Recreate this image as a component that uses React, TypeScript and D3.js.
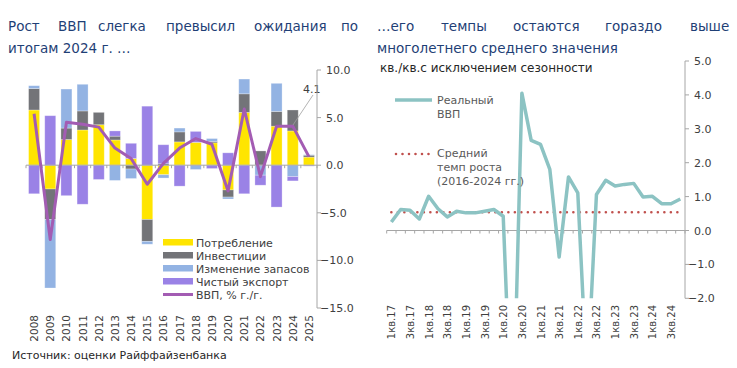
import React from 'react';
import * as d3 from 'd3';

// left chart: contributions to GDP growth, p.p.
const years = ['2008', '2009', '2010', '2011', '2012', '2013', '2014', '2015', '2016', '2017', '2018', '2019', '2020', '2021', '2022', '2023', '2024', '2025'];
const consumption = [5.8, -2.5, 2.7, 3.7, 4.25, 2.65, 0.7, -5.7, -1.0, 2.45, 2.4, 2.35, -2.6, 5.55, 0.0, 4.1, 3.6, 0.85];
const investment = [2.25, -3.2, 1.2, 2.0, 1.3, 0.4, -0.4, -2.3, 0.15, 1.05, 0.0, 0.15, -0.75, 1.95, 1.5, 1.55, 2.2, 0.2];
const stocks = [0.3, -7.2, 4.1, 2.8, 0.0, -1.6, -1.0, -0.3, -0.35, 0.4, -0.45, 0.3, -0.2, 1.55, -1.05, 2.95, -1.2, 0.05];
const netExports = [-3.0, 5.2, -3.2, -4.1, -1.5, 0.55, 1.6, 6.2, 2.0, -2.2, 1.15, -0.35, 1.3, -3.0, -1.05, -4.4, -0.45, -0.1];
const gdp = [5.4, -7.8, 4.5, 4.3, 4.0, 1.8, 0.7, -2.0, 0.2, 1.8, 2.8, 2.2, -2.7, 5.9, -1.2, 4.1, 4.1, 0.9];
const leftTicks = [10, 5, 0, -5, -10, -15];

// right chart: q/q SA growth, %
const quarters = [
  '1кв.17', '2кв.17', '3кв.17', '4кв.17', '1кв.18', '2кв.18', '3кв.18', '4кв.18',
  '1кв.19', '2кв.19', '3кв.19', '4кв.19', '1кв.20', '2кв.20', '3кв.20', '4кв.20',
  '1кв.21', '2кв.21', '3кв.21', '4кв.21', '1кв.22', '2кв.22', '3кв.22', '4кв.22',
  '1кв.23', '2кв.23', '3кв.23', '4кв.23', '1кв.24', '2кв.24', '3кв.24', '4кв.24',
];
const realGdp = [
  0.25, 0.62, 0.6, 0.34, 1.01, 0.64, 0.4, 0.57,
  0.52, 0.52, 0.57, 0.62, 0.42, -6.5, 4.05, 2.66,
  2.54, 1.8, -0.78, 1.58, 1.11, -4.5, 1.06, 1.48,
  1.31, 1.36, 1.39, 0.99, 1.01, 0.79, 0.79, 0.93,
];
const avgGrowth = 0.54;
const rightTicks = [5, 4, 3, 2, 1, 0, -1, -2];

const keys = ['cons', 'inv', 'stocks', 'nx'];
const colors = { cons: '#FFE500', inv: '#737478', stocks: '#93B3E3', nx: '#9A82E6' };
const legendNames = ['Потребление', 'Инвестиции', 'Изменение запасов', 'Чистый экспорт'];

const FONT = 'DejaVu Sans';
const axisColor = '#A6A6A6';
const labelColor = '#404040';
const titleColor = '#1F3F76';

export default function App() {
  // ---- left
  const xL = d3.scaleBand().domain(years).range([26, 317]).paddingInner(0.32).paddingOuter(0.16);
  const yL = d3.scaleLinear().domain([-15, 10]).range([308, 70]);
  const bw = xL.bandwidth();
  const rows = years.map((y, i) => ({
    year: y, cons: consumption[i], inv: investment[i], stocks: stocks[i], nx: netExports[i],
  }));
  const series = d3.stack().keys(keys).offset(d3.stackOffsetDiverging)(rows as any);
  const gdpLine = d3.line<number>()
    .x((_, i) => xL(years[i])! + bw / 2)
    .y((d) => yL(d))(gdp);
  const stepL = xL.step();

  // ---- right
  const xR = d3.scaleBand().domain(quarters).range([386.7, 685]);
  const yR = d3.scaleLinear().domain([-2, 5]).range([298.3, 61]);
  const bwR = xR.bandwidth();
  const cx = (q) => xR(q)! + bwR / 2;
  const realLine = d3.line<number>()
    .x((_, i) => cx(quarters[i]))
    .y((d) => yR(d))(realGdp);
  const avgLine = d3.line<string>()
    .x((q) => cx(q))
    .y(() => yR(avgGrowth))([quarters[0], quarters[quarters.length - 1]]);

  const titleL1 = [['Рост', 8], ['ВВП', 58], ['слегка', 98], ['превысил', 166], ['ожидания', 254], ['по', 341]];
  const titleR1 = [['…его', 377], ['темпы', 441], ['остаются', 513], ['гораздо', 605], ['выше', 690]];

  return (
    <svg width={737} height={368} style={{ position: 'absolute', left: 0, top: 0, background: '#fff' }} fontFamily={FONT}>
      <defs>
        <clipPath id="rclip">
          <rect x={380} y={61} width={310} height={237.3} />
        </clipPath>
      </defs>

      {/* titles */}
      {titleL1.map(([w, x]) => (
        <text key={w as string} x={x as number} y={31} fontSize={13.5} fill={titleColor}>{w}</text>
      ))}
      <text x={8} y={53} fontSize={13.5} fill={titleColor}>итогам 2024 г. …</text>
      {titleR1.map(([w, x]) => (
        <text key={w as string} x={x as number} y={31} fontSize={13.5} fill={titleColor}>{w}</text>
      ))}
      <text x={377} y={53} fontSize={13.5} fill={titleColor}>многолетнего среднего значения</text>

      {/* left bars */}
      {series.map((s) => (
        <g key={s.key} fill={colors[s.key]}>
          {s.map((d, i) => {
            const h = Math.abs(yL(d[0]) - yL(d[1]));
            if (h < 0.01) return null;
            return (
              <rect key={i} x={xL(years[i])} y={yL(Math.max(d[0], d[1]))} width={bw} height={h}
                stroke="#fff" strokeOpacity={0.35} strokeWidth={0.8} />
            );
          })}
        </g>
      ))}
      {/* zero line + ticks */}
      <line x1={xL.range()[0]} x2={317} y1={yL(0)} y2={yL(0)} stroke={axisColor} strokeWidth={1} />
      {d3.range(years.length + 1).map((i) => (
        <line key={i} x1={26 + i * stepL} x2={26 + i * stepL} y1={yL(0)} y2={yL(0) + 3} stroke={axisColor} />
      ))}
      <path d={gdpLine!} fill="none" stroke="#A35CB3" strokeWidth={3} strokeLinejoin="round" />
      {/* 4.1 label */}
      <line x1={313} y1={95} x2={293} y2={125} stroke="#A0A0A0" strokeWidth={0.8} />
      <text x={303} y={93} fontSize={11} fill={labelColor}>{d3.format('.1f')(gdp[gdp.length - 2])}</text>

      {/* left y axis */}
      <line x1={317} x2={317} y1={yL(10)} y2={yL(-15)} stroke={axisColor} />
      {leftTicks.map((t) => (
        <g key={t}>
          <line x1={317} x2={321} y1={yL(t)} y2={yL(t)} stroke={axisColor} />
          <text x={t < 0 ? 320 : 326} y={yL(t) + 4} fontSize={11} fill={labelColor}>{d3.format('.1f')(t)}</text>
        </g>
      ))}
      {/* left x labels */}
      {years.map((y) => (
        <text key={y} transform={`translate(${xL(y)! + bw / 2 + 4},315) rotate(-90)`} textAnchor="end"
          fontSize={10.5} fill={labelColor}>{y}</text>
      ))}

      {/* left legend */}
      {keys.map((k, i) => (
        <g key={k}>
          <rect x={163} y={239 + i * 13} width={30} height={6.5} fill={colors[k]} />
          <text x={196} y={246.5 + i * 13} fontSize={11} fill={labelColor}>{legendNames[i]}</text>
        </g>
      ))}
      <line x1={163} x2={193} y1={294.5} y2={294.5} stroke="#A35CB3" strokeWidth={3} />
      <text x={196} y={298.5} fontSize={11} fill={labelColor}>ВВП, % г./г.</text>

      {/* right chart */}
      <text x={380} y={72} fontSize={12} fill="#262626">кв./кв.с исключением сезонности</text>
      <line x1={386.7} x2={685} y1={yR(0)} y2={yR(0)} stroke={axisColor} />
      {d3.range(quarters.length + 1).map((i) => (
        <line key={i} x1={386.7 + i * xR.step()} x2={386.7 + i * xR.step()} y1={yR(0)} y2={yR(0) + 3} stroke={axisColor} />
      ))}
      <path d={avgLine!} fill="none" stroke="#C0504D" strokeWidth={2.6} strokeDasharray="0 6.5" strokeLinecap="round" />
      <path d={realLine!} fill="none" stroke="#8CC3C3" strokeWidth={3.5} strokeLinejoin="round" clipPath="url(#rclip)" />

      <line x1={685} x2={685} y1={yR(5)} y2={yR(-2)} stroke={axisColor} />
      {rightTicks.map((t) => (
        <g key={t}>
          <line x1={685} x2={689} y1={yR(t)} y2={yR(t)} stroke={axisColor} />
          <text x={t < 0 ? 688 : 694} y={yR(t) + 4} fontSize={11} fill={labelColor}>{d3.format('.1f')(t)}</text>
        </g>
      ))}
      {quarters.filter((_, i) => i % 2 === 0).map((q) => (
        <text key={q} transform={`translate(${cx(q) + 4},305) rotate(-90)`} textAnchor="end"
          fontSize={10} fill={labelColor}>{q}</text>
      ))}

      {/* right legend */}
      <line x1={395} x2={432} y1={100} y2={100} stroke="#8CC3C3" strokeWidth={3.5} />
      <text x={437} y={104} fontSize={11} fill="#595959">Реальный</text>
      <text x={437} y={118} fontSize={11} fill="#595959">ВВП</text>
      <line x1={396} x2={432} y1={154} y2={154} stroke="#C0504D" strokeWidth={2.6} strokeDasharray="0 6.5" strokeLinecap="round" />
      <text x={437} y={157} fontSize={11} fill="#595959">Средний</text>
      <text x={437} y={171} fontSize={11} fill="#595959">темп роста</text>
      <text x={437} y={185} fontSize={11} fill="#595959">(2016-2024 гг.)</text>

      <text x={12} y={359} fontSize={11} fill="#262626">Источник: оценки Райффайзенбанка</text>
    </svg>
  );
}
